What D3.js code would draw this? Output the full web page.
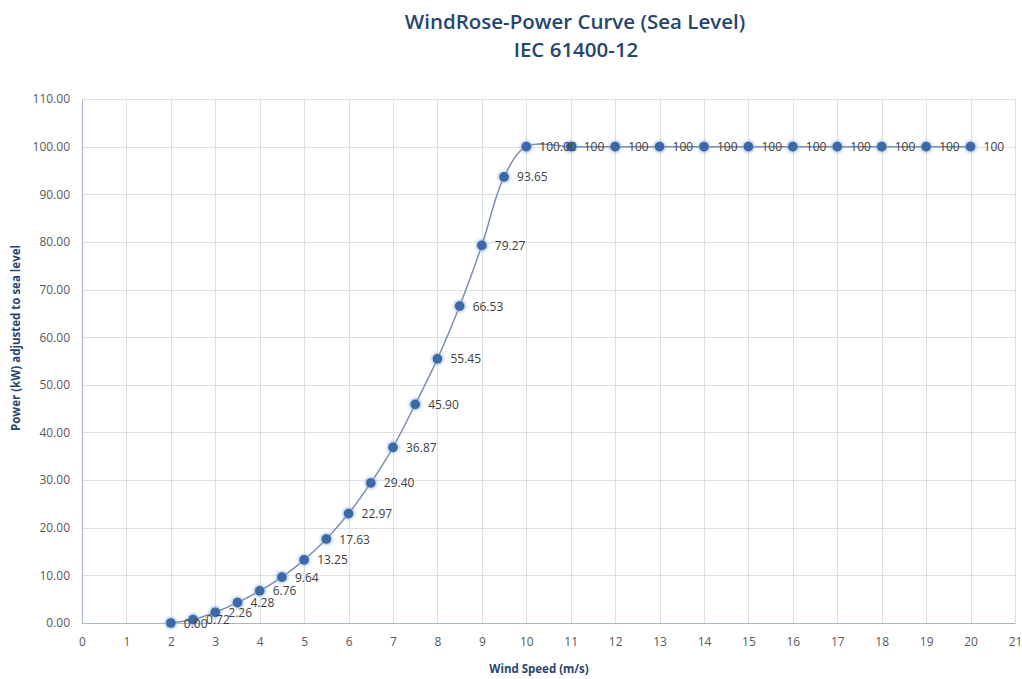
<!DOCTYPE html>
<html>
<head>
<meta charset="utf-8">
<script src="https://cdn.jsdelivr.net/npm/d3@7"></script>
<style>
  body { margin: 0; background: #fff; }
  svg { display: block; }
  text { font-family: "Open Sans", "Liberation Sans", sans-serif; }
</style>
</head>
<body>
<div id="chart"></div>
<script>
// wind speed (m/s) and power (kW)
var speeds = [2, 2.5, 3, 3.5, 4, 4.5, 5, 5.5, 6, 6.5, 7, 7.5, 8, 8.5, 9, 9.5, 10,
              11, 12, 13, 14, 15, 16, 17, 18, 19, 20];
var power = [0.00, 0.72, 2.26, 4.28, 6.76, 9.64, 13.25, 17.63, 22.97, 29.40, 36.87, 45.90, 55.45, 66.53, 79.27, 93.65, 100.00,
             100, 100, 100, 100, 100, 100, 100, 100, 100, 100];
var pointLabels = ["0.00", "0.72", "2.26", "4.28", "6.76", "9.64", "13.25", "17.63", "22.97", "29.40", "36.87", "45.90", "55.45", "66.53", "79.27", "93.65", "100.00",
                   "100", "100", "100", "100", "100", "100", "100", "100", "100", "100"];
var xTicks = d3.range(0, 22);
var yTicks = [0, 10, 20, 30, 40, 50, 60, 70, 80, 90, 100, 110];

var width = 1022, height = 679;
var margin = {top: 99, right: 7, bottom: 56, left: 82};

var svg = d3.select("#chart").append("svg")
  .attr("width", width)
  .attr("height", height);

var x = d3.scaleLinear().domain([0, 21]).range([margin.left, width - margin.right]);
var y = d3.scaleLinear().domain([0, 110]).range([height - margin.bottom, margin.top]);

// gridlines
svg.append("g").selectAll("line.h").data(yTicks).enter().append("line")
  .attr("x1", x(0)).attr("x2", x(21))
  .attr("y1", function(d){ return Math.round(y(d)) + 0.5; })
  .attr("y2", function(d){ return Math.round(y(d)) + 0.5; })
  .style("stroke", "#dcdfe3");
svg.append("g").selectAll("line.v").data(xTicks).enter().append("line")
  .attr("x1", function(d){ return Math.round(x(d)) + 0.5; })
  .attr("x2", function(d){ return Math.round(x(d)) + 0.5; })
  .attr("y1", y(110)).attr("y2", y(0))
  .style("stroke", "#dcdfe3");

// axes
var xAxis = svg.append("g")
  .attr("transform", "translate(0," + y(0) + ")")
  .call(d3.axisBottom(x).tickValues(xTicks).tickSize(0).tickPadding(14).tickFormat(d3.format("d")));
var yAxis = svg.append("g")
  .attr("transform", "translate(" + x(0) + ",0)")
  .call(d3.axisLeft(y).tickValues(yTicks).tickSize(0).tickPadding(12).tickFormat(d3.format(".2f")));

[xAxis, yAxis].forEach(function(a){
  a.select(".domain").style("stroke", "#a9b6c6").style("stroke-width", 1.2);
  a.selectAll("text").style("fill", "#595959").style("font-size", "12px");
});

// smoothed line
var pts = speeds.map(function(s, i){ return [s, power[i]]; });
var line = d3.line()
  .x(function(d){ return x(d[0]); })
  .y(function(d){ return y(d[1]); })
  .curve(d3.curveCatmullRom.alpha(0.5));

svg.append("path")
  .datum(pts)
  .attr("d", line)
  .style("fill", "none")
  .style("stroke", "#7d8fae")
  .style("stroke-width", 1.5);

// soft glow behind markers
var defs = svg.append("defs");
var blur = defs.append("filter").attr("id", "glow").attr("x", "-1").attr("y", "-1").attr("width", "3").attr("height", "3");
blur.append("feGaussianBlur").attr("stdDeviation", 1.6);

svg.append("g").selectAll("circle.g").data(pts).enter().append("circle")
  .attr("cx", function(d){ return x(d[0]); })
  .attr("cy", function(d){ return y(d[1]); })
  .attr("r", 6)
  .attr("filter", "url(#glow)")
  .style("fill", "#8fb0dc")
  .style("opacity", 0.8);

svg.append("g").selectAll("circle.m").data(pts).enter().append("circle")
  .attr("cx", function(d){ return x(d[0]); })
  .attr("cy", function(d){ return y(d[1]); })
  .attr("r", 4.8)
  .style("fill", "#3b68a6");

// data labels
svg.append("g").selectAll("text").data(pts).enter().append("text")
  .attr("x", function(d){ return x(d[0]) + 13; })
  .attr("y", function(d){ return y(d[1]) + 4.5; })
  .text(function(d, i){ return pointLabels[i]; })
  .style("fill", "#404040")
  .style("font-size", "12px");

// titles
svg.append("text")
  .attr("x", 575).attr("y", 29)
  .attr("text-anchor", "middle")
  .style("font-size", "20.5px").style("font-weight", "600").style("fill", "#27466f")
  .text("WindRose-Power  Curve (Sea Level)");
svg.append("text")
  .attr("x", 576).attr("y", 57)
  .attr("text-anchor", "middle")
  .style("font-size", "20.5px").style("font-weight", "600").style("fill", "#27466f")
  .text("IEC 61400-12");

svg.append("text")
  .attr("x", 539).attr("y", 673)
  .attr("text-anchor", "middle")
  .style("font-size", "11.5px").style("font-weight", "bold").style("fill", "#27466f")
  .text("Wind Speed (m/s)");

svg.append("text")
  .attr("transform", "translate(20," + 338 + ") rotate(-90)")
  .attr("text-anchor", "middle")
  .style("font-size", "11.5px").style("font-weight", "bold").style("fill", "#27466f")
  .text("Power (kW) adjusted to sea level");
</script>
</body>
</html>
